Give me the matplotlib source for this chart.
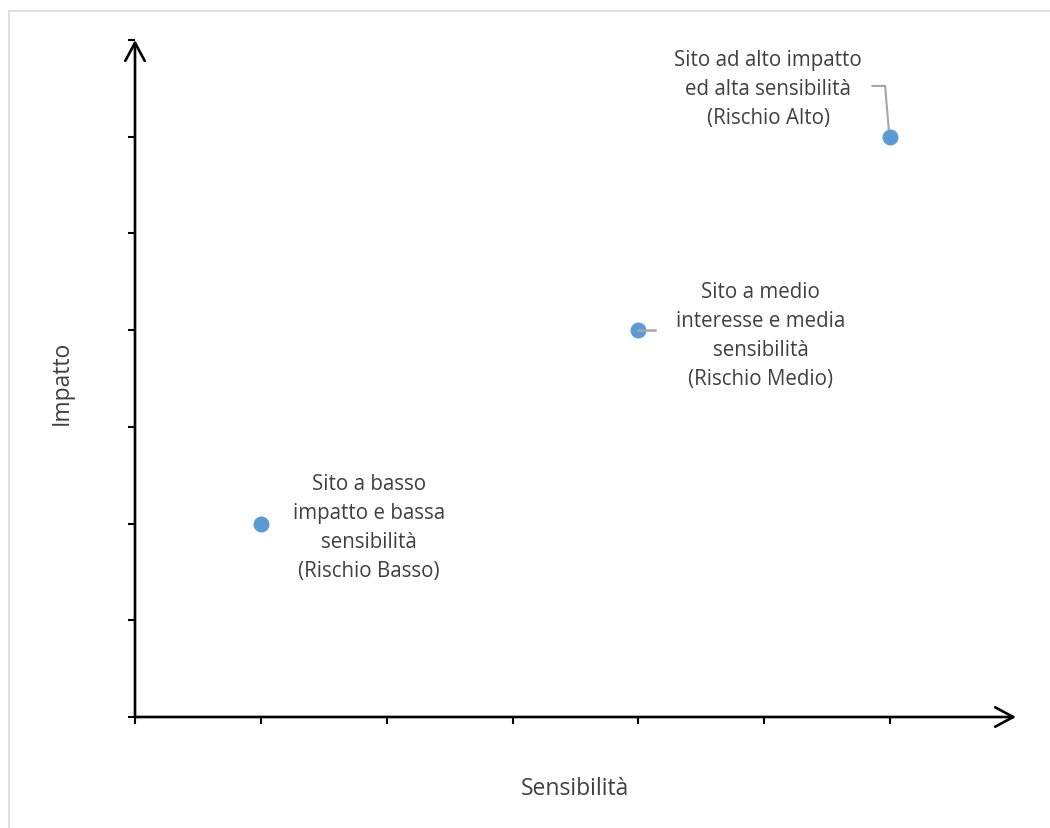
import matplotlib.pyplot as plt
from matplotlib.patches import Rectangle

# dati
sensibilita = [1, 4, 6]
impatto = [2, 4, 6]
etichette = [
    "Sito a basso\nimpatto e bassa\nsensibilità\n(Rischio Basso)",
    "Sito a medio\ninteresse e media\nsensibilità\n(Rischio Medio)",
    "Sito ad alto impatto\ned alta sensibilità\n(Rischio Alto)",
]
x_ticks = [0, 1, 2, 3, 4, 5, 6]
y_ticks = [0, 1, 2, 3, 4, 5, 6, 7]

plt.rcParams['font.family'] = ['Open Sans', 'DejaVu Sans']
text_color = '#404040'
fs = 14.8

fig = plt.figure(figsize=(10.5, 8.29), dpi=100)
W, H = 1050, 829

# cornice grigia chiara
fig.patches.append(Rectangle((9 / W, -0.1), 1.2, 1 - 12 / H + 0.1,
                             transform=fig.transFigure, fill=False,
                             edgecolor='#d9d9d9', linewidth=1.2))

ax = fig.add_axes([135 / W, 1 - 718 / H, (1016 - 135) / W, (718 - 41) / H])
ax.set_xlim(0, 7)
ax.set_ylim(0, 7)
for s in ax.spines.values():
    s.set_visible(False)

# assi con freccia
arrow = dict(arrowstyle='->,head_length=1.3,head_width=0.7',
             color='black', lw=1.9, shrinkA=0, shrinkB=0)
ax.annotate('', xy=(7, 0), xytext=(0, 0), arrowprops=arrow, annotation_clip=False)
ax.annotate('', xy=(0, 7), xytext=(0, 0), arrowprops=arrow, annotation_clip=False)

ax.set_xticks(x_ticks)
ax.set_yticks(y_ticks)
ax.set_xticklabels([])
ax.set_yticklabels([])
ax.tick_params(direction='out', length=5, width=1.5, color='black')

ax.scatter(sensibilita, impatto, s=110, color='#5b9bd5', zorder=5, clip_on=False)

# etichette
ax.text(1.86, 1.965, etichette[0], ha='center', va='center',
        fontsize=fs, color=text_color, linespacing=1.5)
ax.text(4.97, 3.95, etichette[1], ha='center', va='center',
        fontsize=fs, color=text_color, linespacing=1.5)
ax.plot([4.0, 4.13], [4.0, 4.0], color='#a6a6a6', lw=1.8, zorder=6)
ax.text(5.03, 6.495, etichette[2], ha='center', va='center',
        fontsize=fs, color=text_color, linespacing=1.5)
ax.plot([5.86, 5.96, 5.99], [6.525, 6.525, 6.06], color='#a6a6a6', lw=1.5, clip_on=False)

fig.text(62 / W, 1 - 383 / H, 'Impatto', rotation=90, ha='center', va='center',
         fontsize=16.5, color=text_color)
fig.text(575 / W, 1 - 789 / H, 'Sensibilità', ha='center', va='center',
         fontsize=16.5, color=text_color)

fig.savefig('out.png', dpi=100)
